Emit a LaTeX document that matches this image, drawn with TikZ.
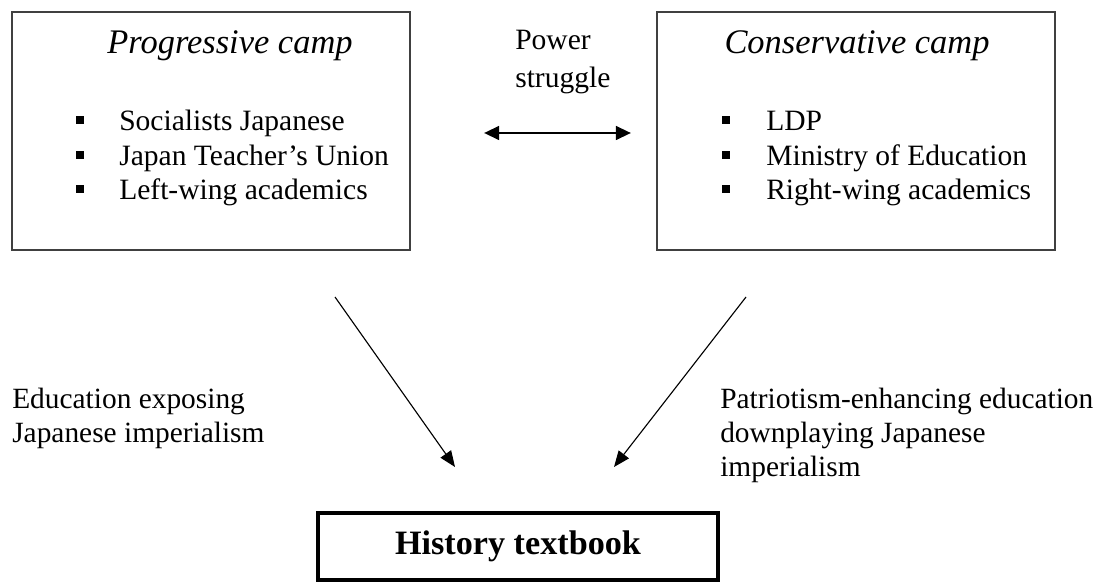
\documentclass[tikz,border=0pt]{standalone}
\usepackage{fontspec}
\setmainfont{Liberation Serif}
\usetikzlibrary{arrows.meta}
\tikzset{
  campbox/.style={draw=black!75, line width=0.9pt, minimum width=9.95cm, minimum height=5.95cm},
  camptitle/.style={font=\fontsize{24.5}{28}\selectfont\itshape},
  itemtext/.style={anchor=base west, inner sep=0pt, font=\fontsize{21}{24}\selectfont},
  bul/.style={fill=black, minimum size=6pt, inner sep=0pt},
  lbl/.style={anchor=north west, inner sep=0pt, align=left, font=\fontsize{20.9}{24.2}\selectfont},
  flow/.style={line width=0.8pt, -{Triangle[length=0.4cm, width=0.32cm]}},
  fight/.style={line width=2pt, {Triangle[length=0.38cm, width=0.34cm]}-{Triangle[length=0.38cm, width=0.34cm]}}
}
\begin{document}
\begin{tikzpicture}[x=0.025cm,y=-0.025cm]
\useasboundingbox (0,0) rectangle (1096,582);
% the two camps
\node[campbox] (prog) at (211,131) {};
\node[campbox] (cons) at (856,131) {};
\node[camptitle] (progT) at (230,46) {Progressive camp};
\node[camptitle] (consT) at (857,46) {Conservative camp};
% left list
\node[bul] (b1) at (80,120) {};
\node[bul] (b2) at (80,155) {};
\node[bul] (b3) at (80,189) {};
\node[itemtext] (i1) at (119,131) {Socialists Japanese};
\node[itemtext] (i2) at (119,166) {Japan Teacher’s Union};
\node[itemtext] (i3) at (119,200) {Left-wing academics};
% right list
\node[bul] (c1) at (726,120) {};
\node[bul] (c2) at (726,155) {};
\node[bul] (c3) at (726,189) {};
\node[itemtext] (j1) at (766,131) {LDP};
\node[itemtext] (j2) at (766,166) {Ministry of Education};
\node[itemtext] (j3) at (766,200) {Right-wing academics};
% power struggle
\node[anchor=north west, inner sep=0pt, align=left, font=\fontsize{21}{27}\selectfont] (ps) at (515,30) {Power\\struggle};
\coordinate (PL) at (484,133);
\coordinate (PR) at (631,133);
\draw[fight] (PL) -- (PR);
% influence on the textbook
\coordinate (A0) at (335,297);
\coordinate (A1) at (455,467);
\coordinate (B0) at (746,297);
\coordinate (B1) at (614,467);
\draw[flow] (A0) -- (A1);
\draw[flow] (B0) -- (B1);
\node[lbl] (le) at (12,388) {Education exposing\\Japanese imperialism};
\node[lbl] (ri) at (720,388) {Patriotism-enhancing education\\downplaying Japanese\\imperialism};
% result
\node[draw, line width=2.8pt, minimum width=10cm, minimum height=1.68cm,
  font=\fontsize{24.3}{28}\selectfont\bfseries] (hist) at (518,546.5) {History textbook};
\end{tikzpicture}
\end{document}
